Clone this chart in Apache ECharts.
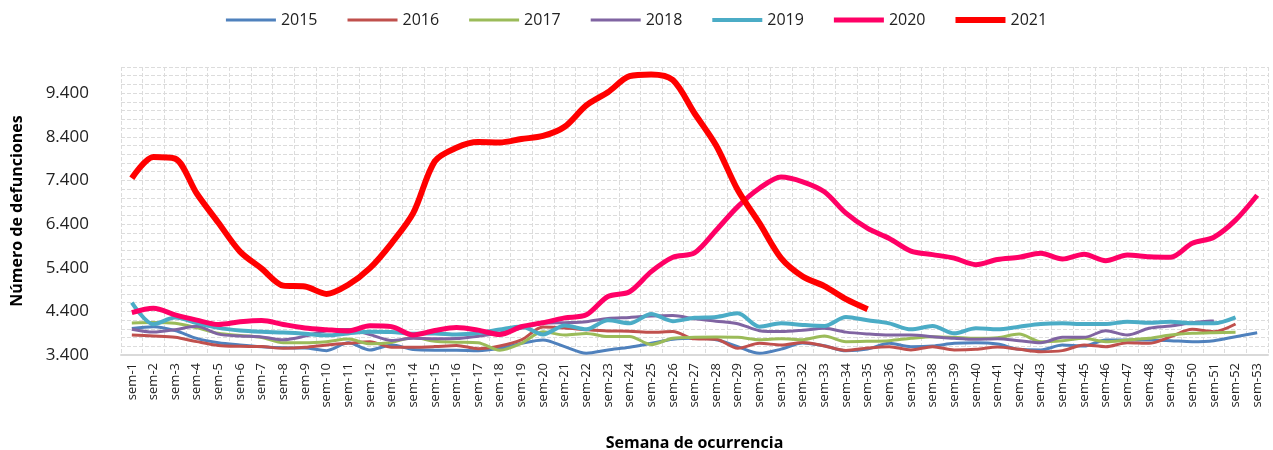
<!DOCTYPE html>
<html>
<head>
<meta charset="utf-8">
<script src="https://cdn.jsdelivr.net/npm/echarts@6/dist/echarts.min.js"></script>
<style>
  html, body { margin: 0; padding: 0; background: #fff; }
  #chart { width: 1273px; height: 450px; }
</style>
</head>
<body>
<div id="chart"></div>
<script>
// semanas 1..53
const weeks = []
for (let i = 1; i <= 53; i++) weeks.push('sem-' + i)

const years = ['2015', '2016', '2017', '2018', '2019', '2020', '2021']

const d2015 = [4010, 4050, 3960, 3780, 3680, 3630, 3590, 3565, 3560, 3500, 3680, 3515, 3630, 3525, 3510, 3510, 3500, 3555, 3667, 3744, 3591, 3440, 3515, 3576, 3667, 3760, 3783, 3750, 3592, 3440, 3535, 3676, 3611, 3497, 3535, 3667, 3591, 3606, 3667, 3680, 3650, 3530, 3515, 3629, 3606, 3744, 3744, 3744, 3728, 3705, 3728, 3820, 3911]
const d2016 = [3860, 3836, 3806, 3706, 3620, 3600, 3592, 3555, 3575, 3630, 3668, 3706, 3577, 3577, 3592, 3618, 3545, 3606, 3744, 4040, 4020, 3980, 3950, 3945, 3920, 3936, 3770, 3760, 3554, 3668, 3630, 3688, 3607, 3505, 3560, 3591, 3515, 3591, 3515, 3530, 3585, 3530, 3476, 3500, 3629, 3591, 3682, 3667, 3820, 3988, 3935, 4110]
const d2017 = [4135, 4145, 4125, 4023, 3897, 3848, 3802, 3680, 3680, 3706, 3764, 3656, 3688, 3800, 3715, 3695, 3680, 3510, 3668, 3930, 3860, 3895, 3825, 3825, 3640, 3784, 3805, 3812, 3806, 3752, 3772, 3752, 3836, 3706, 3714, 3728, 3782, 3820, 3805, 3782, 3795, 3881, 3705, 3728, 3782, 3705, 3744, 3782, 3858, 3896, 3911, 3919]
const d2018 = [3990, 3925, 3980, 4058, 3878, 3836, 3814, 3750, 3832, 3958, 3982, 3866, 3734, 3783, 3772, 3776, 3832, 3905, 4011, 4125, 4140, 4163, 4239, 4262, 4293, 4305, 4229, 4176, 4118, 3958, 3936, 3966, 4011, 3924, 3882, 3858, 3858, 3820, 3782, 3759, 3770, 3728, 3682, 3805, 3805, 3957, 3858, 4011, 4064, 4140, 4186]
const d2019 = [4600, 4106, 4258, 4132, 4022, 3964, 3934, 3915, 3888, 3850, 3895, 3934, 3927, 3885, 3895, 3870, 3903, 3985, 4055, 3870, 4075, 3990, 4195, 4126, 4340, 4176, 4252, 4272, 4355, 4050, 4126, 4088, 4065, 4272, 4195, 4125, 3988, 4064, 3896, 4011, 3988, 4049, 4110, 4125, 4110, 4110, 4163, 4140, 4163, 4125, 4125, 4262]
const d2020 = [4370, 4470, 4320, 4200, 4100, 4160, 4190, 4100, 4020, 3980, 3950, 4070, 4050, 3860, 3960, 4030, 3970, 3870, 4050, 4140, 4250, 4320, 4740, 4850, 5310, 5640, 5740, 6260, 6800, 7220, 7480, 7370, 7140, 6650, 6300, 6070, 5780, 5700, 5620, 5470, 5590, 5640, 5730, 5600, 5710, 5560, 5690, 5650, 5640, 5960, 6100, 6490, 7060]
const d2021 = [7450, 7940, 7900, 7100, 6430, 5770, 5380, 4990, 4970, 4800, 5010, 5390, 5960, 6650, 7840, 8150, 8280, 8270, 8350, 8420, 8630, 9120, 9420, 9790, 9830, 9700, 8940, 8200, 7180, 6420, 5620, 5200, 4980, 4680, 4450]

const seriesData = [d2015, d2016, d2017, d2018, d2019, d2020, d2021]
const colors = ['#4F81BD', '#C0504D', '#9BBB59', '#8064A2', '#4BACC6', '#FF0066', '#FF0000']
const widths = [3, 3, 3, 3, 4, 5, 6]

const font = '"Open Sans", "Noto Sans", sans-serif'

function fmtNum(v) {
  return String(v).replace(/\B(?=(\d{3})+(?!\d))/g, '.')
}

let series = []
let legendData = []
for (let i = 0; i < years.length; i++) {
  series.push({
    name: years[i],
    type: 'line',
    data: seriesData[i],
    smooth: 0.3,
    symbol: 'none',
    lineStyle: { width: widths[i], color: colors[i] },
    itemStyle: { color: colors[i] },
    z: 2 + i
  })
  // icono de leyenda: barra con el grosor de la linea
  legendData.push({
    name: years[i],
    icon: 'path://M0,0H50V' + widths[i] + 'H0Z',
    itemStyle: { color: colors[i] }
  })
}

let option = {
  animation: false,
  textStyle: { fontFamily: font },
  legend: {
    top: 7,
    left: 'center',
    itemWidth: 50,
    itemHeight: 12,
    itemGap: 30,
    textStyle: { fontSize: 16, color: '#222', fontFamily: font },
    data: legendData
  },
  grid: {
    left: 121,
    right: 5,
    top: 67,
    bottom: 95,
    containLabel: false,
    outerBoundsMode: 'none'
  },
  xAxis: {
    type: 'category',
    data: weeks,
    boundaryGap: true,
    name: 'Semana de ocurrencia',
    nameLocation: 'middle',
    nameGap: 80,
    nameTextStyle: { fontSize: 16, fontWeight: 'bold', color: '#000', fontFamily: font },
    axisLine: { show: true, lineStyle: { color: '#d9d9d9', width: 2 } },
    axisTick: { show: false },
    axisLabel: {
      interval: 0,
      rotate: 90,
      fontSize: 13,
      color: '#222',
      margin: 8,
      fontFamily: font
    },
    splitLine: {
      show: true,
      interval: 0,
      lineStyle: { color: '#dcdcdc', type: 'dashed', width: 1 }
    }
  },
  yAxis: {
    type: 'value',
    min: 3400,
    max: 10000,
    interval: 200,
    name: 'Número de defunciones',
    nameLocation: 'middle',
    nameGap: 96,
    nameRotate: 90,
    nameTextStyle: { fontSize: 16, fontWeight: 'bold', color: '#000', fontFamily: font },
    axisLine: { show: false },
    axisTick: { show: false },
    axisLabel: {
      fontSize: 17,
      color: '#222',
      margin: 32,
      fontFamily: font,
      formatter: function (v) {
        if ((v - 3400) % 1000 === 0) return fmtNum(v)
        return ''
      }
    },
    splitLine: {
      show: true,
      lineStyle: { color: '#dcdcdc', type: 'dashed', width: 1 }
    }
  },
  series: series
}

let myChart = echarts.init(document.getElementById('chart'), null, { renderer: 'canvas' })
myChart.setOption(option)
</script>
</body>
</html>
